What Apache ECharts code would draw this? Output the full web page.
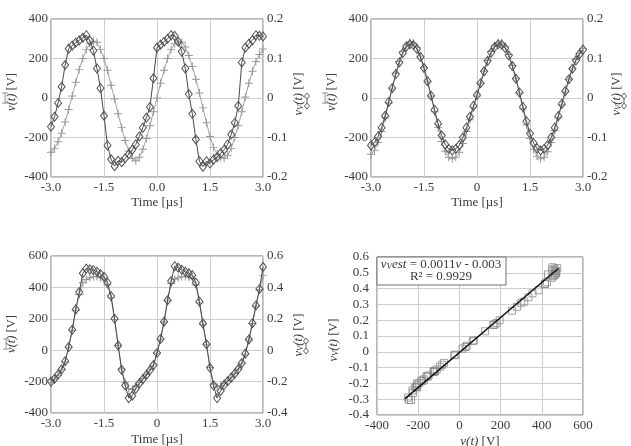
<!DOCTYPE html>
<html>
<head>
<meta charset="utf-8">
<script src="https://cdn.jsdelivr.net/npm/echarts@6/dist/echarts.min.js"></script>
<style>
html, body { margin: 0; padding: 0; background: #fff; }
#chart { width: 631px; height: 446px; }
</style>
</head>
<body>
<div id="chart"></div>
<script>
// time axis in microseconds
var time = [-3.0,-2.9,-2.8,-2.7,-2.6,-2.5,-2.4,-2.3,-2.2,-2.1,-2.0,-1.9,-1.8,-1.7,-1.6,-1.5,-1.4,-1.3,-1.2,-1.1,-1.0,
  -0.9,-0.8,-0.7,-0.6,-0.5,-0.4,-0.3,-0.2,-0.1,0.0,0.1,0.2,0.3,0.4,0.5,0.6,0.7,0.8,0.9,1.0,
  1.1,1.2,1.3,1.4,1.5,1.6,1.7,1.8,1.9,2.0,2.1,2.2,2.3,2.4,2.5,2.6,2.7,2.8,2.9,3.0];

// top left: v(t) [V] (crosses) and vV(t) [V] (diamonds)
var p1V = [-275,-255,-222,-178,-122,-58,10,80,145,200,245,
  275,288,282,245,200,140,65,-5,-80,-150,
  -215,-268,-305,-318,-300,-260,-205,-140,-70,0,
  75,140,200,245,275,288,282,258,215,160,
  95,25,-50,-125,-195,-250,-285,-300,-305,-290,
  -255,-200,-140,-70,5,75,135,185,220,248];
var p1VV = [-0.0725,-0.0475,-0.0125,0.0285,0.0835,0.125,0.1325,0.14,0.146,0.1525,0.159,
  0.145,0.12,0.075,0.025,-0.045,-0.12,-0.155,-0.1725,-0.159,-0.1625,
  -0.1525,-0.1425,-0.131,-0.1175,-0.0975,-0.075,-0.05,-0.0225,0.05,0.1275,
  0.135,0.1425,0.15,0.159,0.1575,0.1425,0.1175,0.075,0.01,-0.04,
  -0.105,-0.16,-0.174,-0.16,-0.166,-0.156,-0.15,-0.14,-0.131,-0.1175,
  -0.0925,-0.0625,-0.02,0.09,0.1275,0.1375,0.146,0.159,0.1575,0.156];

// top right
var p2V = [-285,-265,-225,-170,-100,-25,50,125,185,235,268,
  282,278,255,212,155,85,10,-70,-150,-220,
  -270,-300,-308,-300,-275,-230,-170,-110,-50,10,
  75,135,190,235,265,280,278,260,220,165,
  100,25,-55,-135,-205,-260,-295,-308,-300,-272,
  -225,-165,-100,-35,30,95,150,195,225,250];
var p2VV = [-0.12,-0.1125,-0.0975,-0.075,-0.045,-0.01,0.025,0.06,0.09,0.114,0.13,
  0.136,0.134,0.124,0.104,0.076,0.0425,0.006,-0.03,-0.065,-0.095,
  -0.1175,-0.129,-0.1325,-0.129,-0.119,-0.1,-0.075,-0.0475,-0.02,0.0075,
  0.0375,0.0675,0.094,0.115,0.129,0.136,0.135,0.126,0.1075,0.081,
  0.049,0.014,-0.0225,-0.059,-0.09,-0.114,-0.1275,-0.1325,-0.129,-0.119,
  -0.1,-0.075,-0.046,-0.015,0.0175,0.0475,0.074,0.095,0.111,0.1225];

// bottom left (also used for the scatter on the bottom right)
var p3V = [-205,-185,-160,-125,-75,15,125,255,355,430,450,
  462,468,470,462,448,415,335,195,30,-120,
  -205,-245,-250,-228,-205,-180,-155,-125,-95,-20,
  70,180,315,425,452,462,468,470,465,455,
  415,300,165,35,-110,-215,-235,-225,-210,-195,
  -172,-150,-120,-84,-25,65,170,280,385,475];
var p3VV = [-0.2,-0.182,-0.155,-0.122,-0.07,0.02,0.13,0.26,0.37,0.49,0.52,
  0.515,0.51,0.5,0.485,0.468,0.43,0.345,0.2,0.03,-0.125,
  -0.225,-0.305,-0.29,-0.245,-0.212,-0.185,-0.158,-0.128,-0.095,-0.018,
  0.072,0.182,0.318,0.44,0.535,0.525,0.512,0.5,0.49,0.478,
  0.43,0.31,0.17,0.038,-0.112,-0.225,-0.305,-0.26,-0.222,-0.198,
  -0.175,-0.15,-0.12,-0.082,-0.022,0.068,0.172,0.285,0.39,0.53];

// linear fit end points, bottom right
var fitLine = [[-265, -0.298], [480, 0.527]];

var FONT = '"Liberation Serif", "Times New Roman", serif';
var TXT = '#3a3a3a';
var GRIDC = '#cdcdcd';
var CROSS = 'path://M0,4.4H10V5.6H0Z M4.4,0H5.6V10H4.4Z';

function fixed(d, zero) {
  return function (v) { return (zero && Math.abs(v) < 1e-9) ? '0' : v.toFixed(d); };
}
function pairs(xs, ys) {
  return xs.map(function (x, i) { return [x, ys[i]]; });
}
function grid(l, t, w, h) {
  return { left: l, top: t, width: w, height: h, show: true, borderColor: '#6e6e6e', borderWidth: 1,
    containLabel: false, outerBoundsMode: 'none' };
}
function label(margin, fmt) {
  return { color: TXT, fontFamily: FONT, fontSize: 13, margin: margin, formatter: fmt };
}
function xAxis(gi, min, max, step, fmt, name, gap) {
  return {
    gridIndex: gi, type: 'value', min: min, max: max, interval: step,
    name: name, nameLocation: 'middle', nameGap: gap, nameMoveOverlap: false,
    nameTextStyle: { color: TXT, fontFamily: FONT, fontSize: 13,
      rich: { i: { fontStyle: 'italic', fontFamily: FONT, fontSize: 13, color: TXT } } },
    axisLine: { show: false }, axisTick: { show: false },
    axisLabel: label(4, fmt),
    splitLine: { lineStyle: { color: GRIDC, width: 1 } }
  };
}
function yAxis(gi, pos, min, max, step, fmt, margin) {
  return {
    gridIndex: gi, type: 'value', position: pos, min: min, max: max, interval: step,
    axisLine: { show: false }, axisTick: { show: false },
    axisLabel: label(margin, fmt),
    splitLine: { show: pos === 'left', lineStyle: { color: GRIDC, width: 1 } }
  };
}
function crossSeries(xi, yi, ys) {
  return { type: 'line', xAxisIndex: xi, yAxisIndex: yi, data: pairs(time, ys),
    symbol: CROSS, symbolSize: 8, itemStyle: { color: '#979797' },
    lineStyle: { color: '#a3a3a3', width: 1 }, z: 2 };
}
function diamondSeries(xi, yi, ys) {
  return { type: 'line', xAxisIndex: xi, yAxisIndex: yi, data: pairs(time, ys),
    symbol: 'diamond', symbolSize: [7, 9],
    itemStyle: { color: 'rgba(255,255,255,0)', borderColor: '#505050', borderWidth: 1 },
    lineStyle: { color: '#4a4a4a', width: 1 }, z: 3 };
}

var rich = {
  i: { fontFamily: FONT, fontSize: 12.5, fontStyle: 'italic', fill: TXT },
  n: { fontFamily: FONT, fontSize: 12.5, fill: TXT },
  s: { fontFamily: FONT, fontSize: 8.5, fontStyle: 'italic', fill: TXT, verticalAlign: 'bottom' }
};
var boxRich = {
  i: { fontFamily: FONT, fontSize: 13, fontStyle: 'italic', fill: TXT },
  n: { fontFamily: FONT, fontSize: 13, fill: TXT },
  s: { fontFamily: FONT, fontSize: 9, fontStyle: 'italic', fill: TXT, verticalAlign: 'bottom' }
};
function rotText(x, y, text) {
  return { type: 'text', x: x, y: y, rotation: Math.PI / 2, z: 50,
    style: { text: text, rich: rich, align: 'center', verticalAlign: 'middle', fill: TXT } };
}
function crossKey(x, y) {
  var c = '#979797';
  return { type: 'group', x: x, y: y, z: 50, children: [
    { type: 'line', shape: { x1: 0, y1: -6, x2: 0, y2: 6 }, style: { stroke: c, lineWidth: 1 } },
    { type: 'line', shape: { x1: -3, y1: -5, x2: 3, y2: -5 }, style: { stroke: c, lineWidth: 1 } },
    { type: 'line', shape: { x1: -3, y1: 5, x2: 3, y2: 5 }, style: { stroke: c, lineWidth: 1 } }
  ] };
}
function diamondKey(x, y) {
  var c = '#606060';
  function dia(cy) {
    return { type: 'polygon', shape: { points: [[0, cy - 3], [2.5, cy], [0, cy + 3], [-2.5, cy]] },
      style: { fill: '#fff', stroke: c, lineWidth: 1 } };
  }
  return { type: 'group', x: x, y: y, z: 50, children: [
    { type: 'line', shape: { x1: 0, y1: -6, x2: 0, y2: 6 }, style: { stroke: c, lineWidth: 1 } },
    dia(-5), dia(5)
  ] };
}

var chart = echarts.init(document.getElementById('chart'));
chart.setOption({
  animation: false,
  backgroundColor: '#fff',
  grid: [grid(51, 19, 212, 158), grid(371, 19, 212, 158), grid(51, 256, 212, 157), grid(377, 257, 206, 158)],
  xAxis: [
    xAxis(0, -3, 3, 1.5, fixed(1, false), 'Time [µs]', 19),
    xAxis(1, -3, 3, 1.5, fixed(1, true), 'Time [µs]', 19),
    xAxis(2, -3, 3, 1.5, fixed(1, true), 'Time [µs]', 20),
    xAxis(3, -400, 600, 200, fixed(0, true), '{i|v(t)} [V]', 20)
  ],
  yAxis: [
    yAxis(0, 'left', -400, 400, 200, fixed(0, true), 3),
    yAxis(0, 'right', -0.2, 0.2, 0.1, fixed(1, true), 4),
    yAxis(1, 'left', -400, 400, 200, fixed(0, true), 3),
    yAxis(1, 'right', -0.2, 0.2, 0.1, fixed(1, true), 4),
    yAxis(2, 'left', -400, 600, 200, fixed(0, true), 3),
    yAxis(2, 'right', -0.4, 0.6, 0.2, fixed(1, true), 4),
    yAxis(3, 'left', -0.4, 0.6, 0.1, fixed(1, true), 8)
  ],
  series: [
    crossSeries(0, 0, p1V), diamondSeries(0, 1, p1VV),
    crossSeries(1, 2, p2V), diamondSeries(1, 3, p2VV),
    crossSeries(2, 4, p3V), diamondSeries(2, 5, p3VV),
    { type: 'scatter', xAxisIndex: 3, yAxisIndex: 6, data: pairs(p3V, p3VV),
      symbol: 'rect', symbolSize: 7,
      itemStyle: { color: 'rgba(255,255,255,0)', borderColor: '#8a8a8a', borderWidth: 1 } },
    { type: 'line', xAxisIndex: 3, yAxisIndex: 6, data: fitLine, symbol: 'none',
      lineStyle: { color: '#111', width: 1.5 }, z: 4 }
  ],
  graphic: [
    rotText(12, 92, '{i|v(t)}{n| [V]}'), crossKey(5, 98),
    rotText(299, 94, '{i|v}{s|V}{i|(t)}{n| [V]}'), diamondKey(307, 101),
    rotText(332, 92, '{i|v(t)}{n| [V]}'), crossKey(325, 98),
    rotText(617, 94, '{i|v}{s|V}{i|(t)}{n| [V]}'), diamondKey(624, 101),
    rotText(12, 334, '{i|v(t)}{n| [V]}'), crossKey(6, 344),
    rotText(299, 335, '{i|v}{s|V}{i|(t)}{n| [V]}'), diamondKey(306, 346),
    rotText(334, 340, '{i|v}{s|V}{i|(t)}{n| [V]}'),
    { type: 'rect', z: 60, shape: { x: 377, y: 257, width: 129, height: 28 },
      style: { fill: '#fff', stroke: '#707070', lineWidth: 1 } },
    { type: 'text', x: 441, y: 265, z: 61,
      style: { text: '{i|v}{s|V}{i|est}{n| = 0.0011}{i|v}{n| - 0.003}', rich: boxRich,
        align: 'center', verticalAlign: 'middle' } },
    { type: 'text', x: 441, y: 277, z: 61,
      style: { text: '{n|R² = 0.9929}', rich: boxRich, align: 'center', verticalAlign: 'middle' } }
  ]
});
</script>
</body>
</html>
